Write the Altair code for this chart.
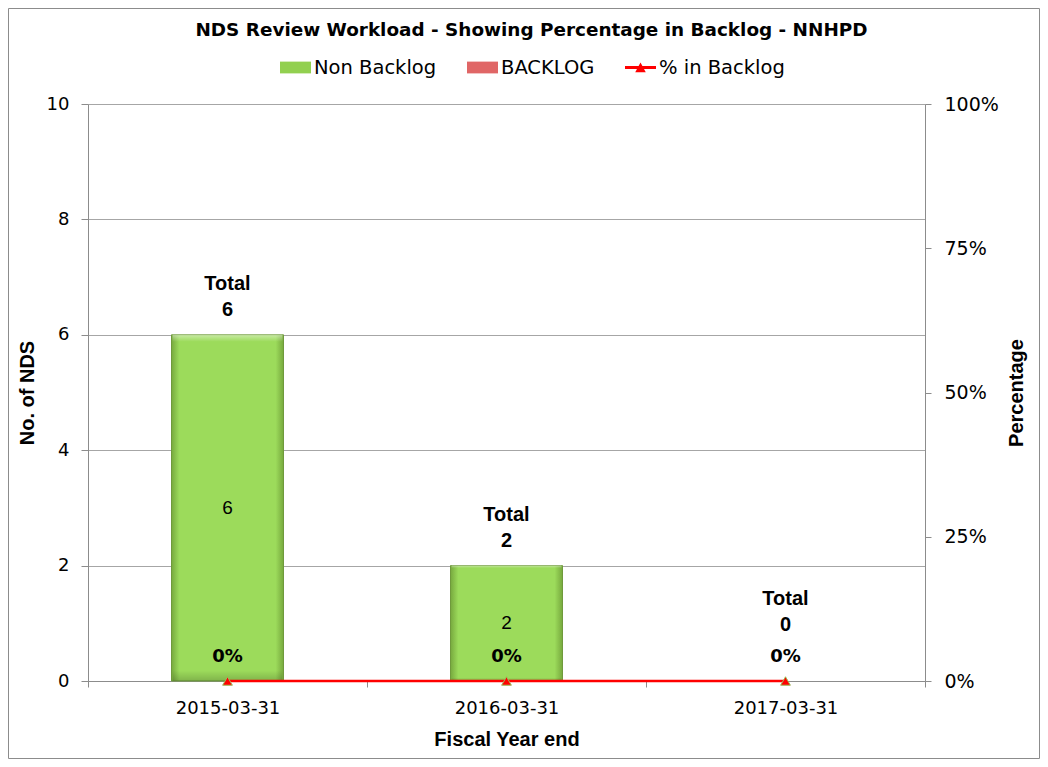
import altair as alt
import pandas as pd

# ---- data ----
years = ["2015-03-31", "2016-03-31", "2017-03-31"]
non_backlog = [6, 2, 0]
backlog = [0, 0, 0]
pct_in_backlog = [0.0, 0.0, 0.0]

series_names = ["Non Backlog", "BACKLOG", "% in Backlog"]
series_colors = ["#92D050", "#E06666", "#FF0000"]

count_ticks = [0, 2, 4, 6, 8, 10]
pct_ticks = [0, 0.25, 0.5, 0.75, 1.0]

df = pd.DataFrame({
    "year": years,
    "Non Backlog": non_backlog,
    "BACKLOG": backlog,
    "pct": pct_in_backlog,
})

# ---- style ----
W, H = 837, 577
SANS = "DejaVu Sans"
ARIAL = "Liberation Sans"
GRID = "#A6A6A6"
AXIS = "#8C8C8C"

green_grad = {
    "gradient": "linear", "x1": 0, "y1": 0, "x2": 1, "y2": 0,
    "stops": [
        {"offset": 0, "color": "#77A93E"},
        {"offset": 0.07, "color": "#9CDB5B"},
        {"offset": 0.93, "color": "#9CDB5B"},
        {"offset": 1, "color": "#77A93E"},
    ],
}
red_grad = {
    "gradient": "linear", "x1": 0, "y1": 0, "x2": 1, "y2": 0,
    "stops": [
        {"offset": 0, "color": "#B84A4A"},
        {"offset": 0.07, "color": "#E46C6C"},
        {"offset": 0.93, "color": "#E46C6C"},
        {"offset": 1, "color": "#B84A4A"},
    ],
}
bevel_grad = {
    "gradient": "linear", "x1": 0, "y1": 0, "x2": 0, "y2": 1,
    "stops": [
        {"offset": 0, "color": "rgba(255,255,255,0.45)"},
        {"offset": 0.02, "color": "rgba(255,255,255,0)"},
        {"offset": 0.97, "color": "rgba(0,0,0,0)"},
        {"offset": 1, "color": "rgba(0,0,0,0.18)"},
    ],
}

rect_path = "M-1,-0.38H1V0.38H-1Z"
line_tri_path = "M-1,-0.09H1V0.09H-1Z M-0.34,0.3L0,-0.32L0.34,0.3Z"

x_axis_def = alt.Axis(
    labelAngle=0, tickBand="extent", labelFont=SANS, labelFontSize=18,
    labelColor="#000000", labelPadding=12, tickSize=6, tickColor=AXIS,
    domainColor=AXIS, titleFont=ARIAL, titleFontSize=20,
    titleFontWeight="bold", titleColor="#000000", titlePadding=12,
)
x_enc = alt.X("year:N", sort=years, title="Fiscal Year end",
              scale=alt.Scale(paddingInner=0, paddingOuter=0), axis=x_axis_def)

count_scale = alt.Scale(domain=[0, 10], nice=False)
pct_scale = alt.Scale(domain=[0, 1], nice=False)

count_axis = alt.Axis(
    values=count_ticks, format="d", grid=True, gridColor=GRID,
    domainColor=AXIS, tickColor=AXIS, tickSize=7,
    labelFont=SANS, labelFontSize=18, labelColor="#000000",
    labelPadding=12, titleFont=ARIAL, titleFontSize=20,
    titleFontWeight="bold", titleColor="#000000", titlePadding=9,
)
pct_axis = alt.Axis(
    orient="right", values=pct_ticks, format=".0%", grid=False,
    domainColor=AXIS, tickColor=AXIS, tickSize=6,
    labelFont=SANS, labelFontSize=19, labelColor="#000000",
    labelPadding=13, titleFont=ARIAL, titleFontSize=20,
    titleFontWeight="bold", titleColor="#000000", titleAngle=270,
    titlePadding=28,
)


def y_count(field, **kw):
    return alt.Y(field, scale=count_scale, title="No. of NDS", axis=count_axis, **kw)


def y_pct(field):
    return alt.Y(field, scale=pct_scale, title="Percentage", axis=pct_axis)


# ---- left (count) layers ----
bar_base = (
    alt.Chart(df)
    .transform_fold(["Non Backlog", "BACKLOG"], as_=["series", "value"])
    .transform_filter("datum.value > 0")
    .transform_calculate(ord="datum.series == 'Non Backlog' ? 0 : 1")
)
bar_enc = dict(
    x=x_enc,
    y=y_count("value:Q", stack="zero"),
    detail="series:N",
    order=alt.Order("ord:Q"),
)

bars = bar_base.mark_bar(size=112, stroke="#6F9A3C", strokeWidth=1).encode(
    fill=alt.condition("datum.series == 'BACKLOG'", alt.value(red_grad), alt.value(green_grad)),
    **bar_enc,
)
bars_bevel = bar_base.mark_bar(size=110, fill=bevel_grad, strokeWidth=0).encode(**bar_enc)

total_txt = (
    alt.Chart(df)
    .transform_calculate(total="datum['Non Backlog'] + datum['BACKLOG']")
    .transform_calculate(label="'Total\\n' + datum.total",
                         ly="max(datum.total, 0.55) + 0.32")
    .mark_text(lineBreak="\n", font=ARIAL, fontSize=20, fontWeight="bold",
               baseline="bottom", lineHeight=26, dy=-22, color="#000000")
    .encode(x=x_enc, y=y_count("ly:Q"), text="label:N")
)

mid_txt = (
    alt.Chart(df)
    .transform_filter("datum['Non Backlog'] > 0")
    .transform_calculate(mid="datum['Non Backlog'] / 2")
    .mark_text(font=ARIAL, fontSize=19, baseline="middle", color="#000000")
    .encode(x=x_enc, y=y_count("mid:Q"),
            text=alt.Text("Non Backlog:Q", format="d"))
)

frame = (
    alt.Chart(pd.DataFrame({"k": [0]}))
    .mark_rect(fill="transparent", stroke="#8C8C8C", strokeWidth=1)
    .encode(x=alt.value(-79.5), x2=alt.value(W + 114.5),
            y=alt.value(-95.5), y2=alt.value(H + 77.5))
)

left = alt.layer(bars, bars_bevel, mid_txt, total_txt, frame)

# ---- right (percentage) layers ----
pct_line = (
    alt.Chart(df)
    .mark_line(color="#FF0000", strokeWidth=2.5)
    .encode(x=x_enc, y=y_pct("pct:Q"))
)

pct_pts = (
    alt.Chart(df)
    .mark_point(shape="triangle-up", filled=True, fill="#FF0000", stroke="#9BBB59",
                strokeWidth=1, size=95, opacity=1)
    .encode(x=x_enc, y=y_pct("pct:Q"))
)

pct_txt = (
    alt.Chart(df)
    .mark_text(font=SANS, fontSize=18, fontWeight="bold", baseline="middle",
               dy=-24, color="#000000")
    .encode(x=x_enc, y=y_pct("pct:Q"),
            text=alt.Text("pct:Q", format=".0%"))
)

legend_cfg = dict(
    orient="none", legendX=192, legendY=-52, direction="horizontal", title=None,
    labelFont=SANS, labelFontSize=19.5, labelColor="#000000", symbolSize=961,
    labelOffset=3, columnPadding=30, symbolStrokeWidth=0,
)

legend_helper = (
    alt.Chart(df)
    .transform_calculate(series="'% in Backlog'")
    .transform_filter("false")
    .mark_point(filled=True, opacity=1)
    .encode(
        x=x_enc,
        y=y_pct("pct:Q"),
        color=alt.Color("series:N", scale=alt.Scale(domain=series_names, range=series_colors),
                        legend=alt.Legend(**legend_cfg)),
        shape=alt.Shape("series:N",
                        scale=alt.Scale(domain=series_names,
                                        range=[rect_path, rect_path, line_tri_path]),
                        legend=alt.Legend(**legend_cfg)),
    )
)

right = alt.layer(pct_line, pct_pts, pct_txt, legend_helper)

chart = (
    alt.layer(left, right)
    .resolve_scale(y="independent")
    .properties(
        width=W, height=H,
        title=alt.TitleParams(
            "NDS Review Workload - Showing Percentage in Backlog - NNHPD",
            font=SANS, fontSize=18.4, fontWeight="bold", color="#000000",
            anchor="middle", offset=-31, dx=25,
        ),
        padding={"left": 80, "top": 96, "right": 115, "bottom": 78},
        autosize=alt.AutoSizeParams(type="none"),
    )
    .configure_view(stroke="transparent", strokeWidth=0)
    .configure(background="white")
)

chart.save("out.html", embed_options={"renderer": "svg", "actions": False})
